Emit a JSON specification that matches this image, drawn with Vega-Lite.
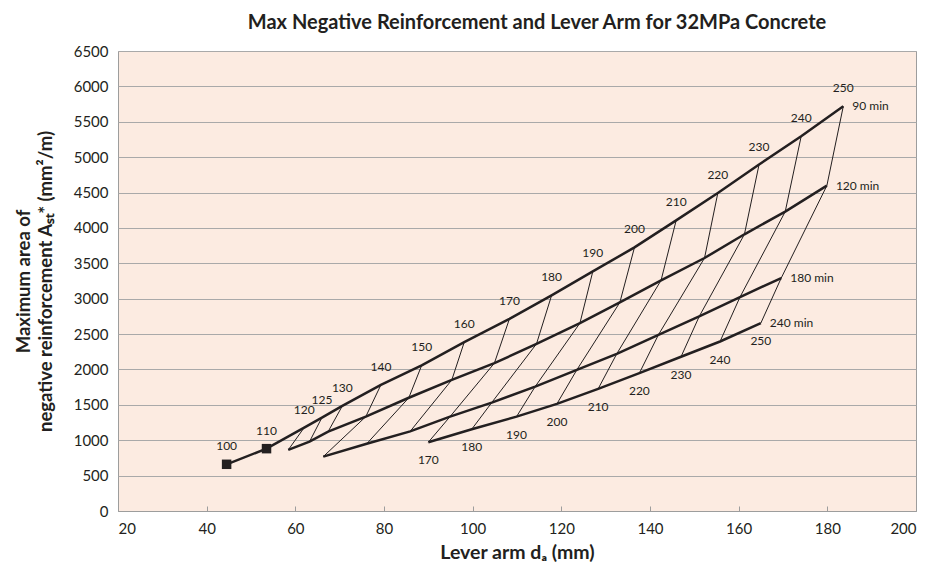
{
  "$schema": "https://vega.github.io/schema/vega-lite/v6.json",
  "autosize": "none",
  "width": 798,
  "height": 460,
  "padding": {"left": 118, "top": 51, "right": 16, "bottom": 56},
  "background": "white",
  "config": {
    "font": "Lato",
    "view": {"fill": "#fcebe1", "stroke": "#9d9d9d", "strokeWidth": 1},
    "axis": {"labelFont": "Lato", "labelFontSize": 15, "labelColor": "#231f20", "titleFont": "Lato", "titleFontSize": 18.5, "titleFontWeight": "bold", "titleColor": "#231f20", "domainColor": "#9d9d9d", "tickColor": "#9d9d9d", "gridColor": "#a9a9a9", "gridOpacity": 1}
  },
  "title": {"text": "Max Negative Reinforcement and Lever Arm for 32MPa Concrete", "font": "Lato", "fontSize": 20, "fontWeight": "bold", "color": "#231f20", "anchor": "middle", "offset": 11, "dx": 20},
  "data": {"values": [
    {"rating": "90 min", "r": 1, "t": 100, "x": 44.5, "y": 660},
    {"rating": "90 min", "r": 1, "t": 110, "x": 53.5, "y": 881},
    {"rating": "90 min", "r": 1, "t": 120, "x": 62.0, "y": 1179},
    {"rating": "90 min", "r": 1, "t": 125, "x": 66.0, "y": 1320},
    {"rating": "90 min", "r": 1, "t": 130, "x": 70.6, "y": 1485},
    {"rating": "90 min", "r": 1, "t": 140, "x": 79.3, "y": 1782},
    {"rating": "90 min", "r": 1, "t": 150, "x": 88.5, "y": 2058},
    {"rating": "90 min", "r": 1, "t": 160, "x": 98.1, "y": 2386},
    {"rating": "90 min", "r": 1, "t": 170, "x": 108.3, "y": 2716},
    {"rating": "90 min", "r": 1, "t": 180, "x": 117.8, "y": 3046},
    {"rating": "90 min", "r": 1, "t": 190, "x": 127.1, "y": 3385},
    {"rating": "90 min", "r": 1, "t": 200, "x": 136.5, "y": 3725},
    {"rating": "90 min", "r": 1, "t": 210, "x": 145.9, "y": 4107},
    {"rating": "90 min", "r": 1, "t": 220, "x": 155.3, "y": 4494},
    {"rating": "90 min", "r": 1, "t": 230, "x": 164.6, "y": 4895},
    {"rating": "90 min", "r": 1, "t": 240, "x": 174.1, "y": 5295},
    {"rating": "90 min", "r": 1, "t": 250, "x": 183.6, "y": 5719},
    {"rating": "120 min", "r": 2, "t": 120, "x": 58.4, "y": 863},
    {"rating": "120 min", "r": 2, "t": 125, "x": 63.2, "y": 980},
    {"rating": "120 min", "r": 2, "t": 130, "x": 67.4, "y": 1122},
    {"rating": "120 min", "r": 2, "t": 140, "x": 75.9, "y": 1334},
    {"rating": "120 min", "r": 2, "t": 150, "x": 85.6, "y": 1600},
    {"rating": "120 min", "r": 2, "t": 160, "x": 95.3, "y": 1853},
    {"rating": "120 min", "r": 2, "t": 170, "x": 104.9, "y": 2089},
    {"rating": "120 min", "r": 2, "t": 180, "x": 114.4, "y": 2362},
    {"rating": "120 min", "r": 2, "t": 190, "x": 124.2, "y": 2655},
    {"rating": "120 min", "r": 2, "t": 200, "x": 133.2, "y": 2947},
    {"rating": "120 min", "r": 2, "t": 210, "x": 142.5, "y": 3260},
    {"rating": "120 min", "r": 2, "t": 220, "x": 152.3, "y": 3575},
    {"rating": "120 min", "r": 2, "t": 230, "x": 161.3, "y": 3910},
    {"rating": "120 min", "r": 2, "t": 240, "x": 170.5, "y": 4230},
    {"rating": "120 min", "r": 2, "t": 250, "x": 179.9, "y": 4598},
    {"rating": "180 min", "r": 3, "t": 140, "x": 66.3, "y": 768},
    {"rating": "180 min", "r": 3, "t": 150, "x": 76.1, "y": 950},
    {"rating": "180 min", "r": 3, "t": 160, "x": 85.9, "y": 1125},
    {"rating": "180 min", "r": 3, "t": 170, "x": 94.9, "y": 1334},
    {"rating": "180 min", "r": 3, "t": 180, "x": 104.3, "y": 1532},
    {"rating": "180 min", "r": 3, "t": 190, "x": 114.1, "y": 1758},
    {"rating": "180 min", "r": 3, "t": 200, "x": 123.5, "y": 1995},
    {"rating": "180 min", "r": 3, "t": 210, "x": 132.5, "y": 2221},
    {"rating": "180 min", "r": 3, "t": 220, "x": 141.9, "y": 2490},
    {"rating": "180 min", "r": 3, "t": 230, "x": 151.1, "y": 2749},
    {"rating": "180 min", "r": 3, "t": 240, "x": 160.3, "y": 3023},
    {"rating": "180 min", "r": 3, "t": 250, "x": 169.6, "y": 3292},
    {"rating": "240 min", "r": 4, "t": 170, "x": 90.0, "y": 972},
    {"rating": "240 min", "r": 4, "t": 180, "x": 99.8, "y": 1156},
    {"rating": "240 min", "r": 4, "t": 190, "x": 109.9, "y": 1334},
    {"rating": "240 min", "r": 4, "t": 200, "x": 119.0, "y": 1514},
    {"rating": "240 min", "r": 4, "t": 210, "x": 128.3, "y": 1726},
    {"rating": "240 min", "r": 4, "t": 220, "x": 137.6, "y": 1948},
    {"rating": "240 min", "r": 4, "t": 230, "x": 147.0, "y": 2180},
    {"rating": "240 min", "r": 4, "t": 240, "x": 155.8, "y": 2395},
    {"rating": "240 min", "r": 4, "t": 250, "x": 165.0, "y": 2655}
  ]},
  "encoding": {
    "x": {"field": "x", "type": "quantitative", "scale": {"domain": [20, 200], "nice": false},
      "axis": {"values": [20, 40, 60, 80, 100, 120, 140, 160, 180, 200], "grid": false, "tickSize": -5, "labelPadding": 15, "title": "Lever arm dₐ (mm)", "titleFontSize": 19.5, "titlePadding": 7}},
    "y": {"field": "y", "type": "quantitative", "scale": {"domain": [0, 6500], "nice": false},
      "axis": {"values": [0, 500, 1000, 1500, 2000, 2500, 3000, 3500, 4000, 4500, 5000, 5500, 6000, 6500], "format": "d", "grid": true, "ticks": false, "domain": false, "labelPadding": 10, "title": ["Maximum area of", "negative reinforcement Aₛₜ* (mm²/m)"], "titleLineHeight": 22, "titlePadding": 18}}
  },
  "layer": [
    {"mark": {"type": "line", "color": "#231f20", "strokeWidth": 1, "clip": true},
     "encoding": {"detail": {"field": "t", "type": "nominal"}, "order": {"field": "r", "type": "quantitative"}}},
    {"mark": {"type": "line", "color": "#231f20", "strokeWidth": 2.5, "clip": true},
     "encoding": {"detail": {"field": "rating", "type": "nominal"}, "order": {"field": "t", "type": "quantitative"}}},
    {"transform": [{"filter": "datum.t <= 110"}],
     "mark": {"type": "square", "color": "#231f20", "opacity": 1, "filled": true, "size": 90},
     "encoding": {}},
    {"transform": [{"filter": "datum.r == 1"}],
     "mark": {"type": "text", "dy": -18, "align": "center", "fontSize": 12, "color": "#231f20"},
     "encoding": {"text": {"field": "t", "type": "quantitative"}}},
    {"transform": [{"filter": "datum.r == 4"}],
     "mark": {"type": "text", "dy": 18, "align": "center", "fontSize": 12, "color": "#231f20"},
     "encoding": {"text": {"field": "t", "type": "quantitative"}}},
    {"transform": [{"filter": "datum.t == 250"}],
     "mark": {"type": "text", "dx": 9, "align": "left", "baseline": "middle", "fontSize": 12, "color": "#231f20"},
     "encoding": {"text": {"field": "rating", "type": "nominal"}}}
  ]
}
